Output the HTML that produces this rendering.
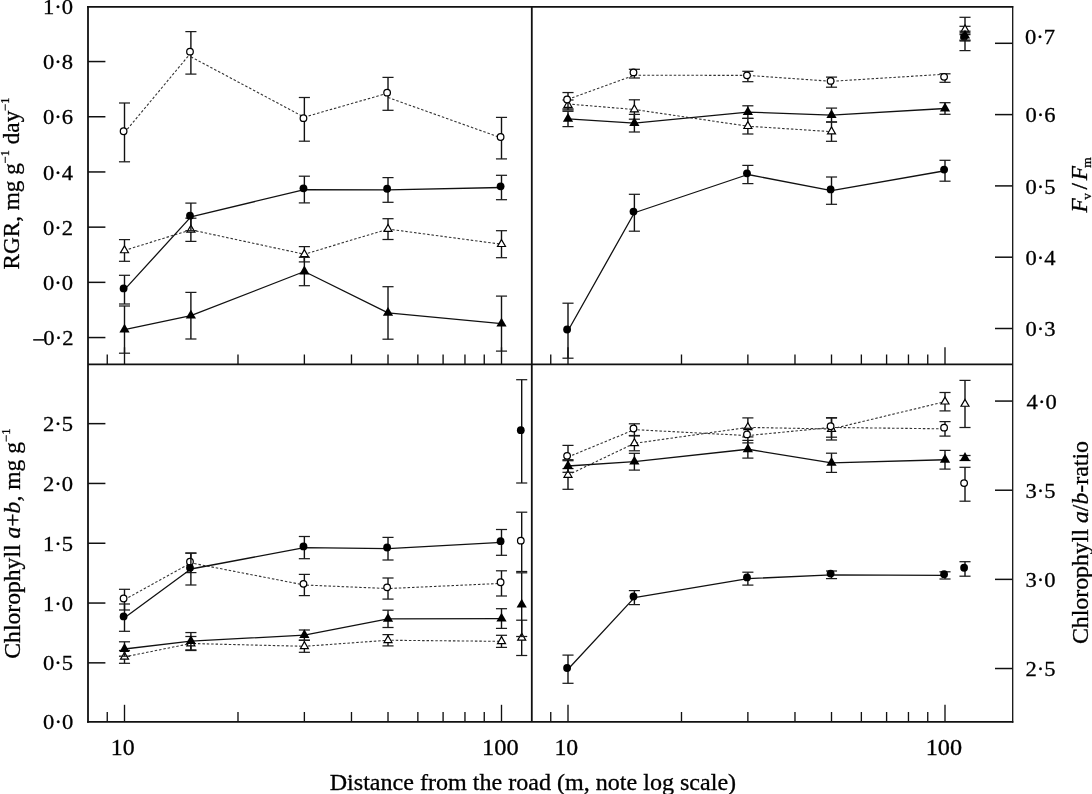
<!DOCTYPE html>
<html><head><meta charset="utf-8"><title>Figure</title>
<style>
html,body{margin:0;padding:0;background:#fff;width:1092px;height:794px;overflow:hidden}
svg{display:block}
text{font-family:'Liberation Serif',serif;font-size:22.5px;fill:#000}
</style></head><body>
<svg width="1092" height="794" viewBox="0 0 1092 794">
<rect width="1092" height="794" fill="#fff"/>
<g><line x1="88.00" y1="61.55" x2="105.40" y2="61.55" stroke="#111" stroke-width="1.5" /><line x1="88.00" y1="116.75" x2="105.40" y2="116.75" stroke="#111" stroke-width="1.5" /><line x1="88.00" y1="171.95" x2="105.40" y2="171.95" stroke="#111" stroke-width="1.5" /><line x1="88.00" y1="227.15" x2="105.40" y2="227.15" stroke="#111" stroke-width="1.5" /><line x1="88.00" y1="282.35" x2="105.40" y2="282.35" stroke="#111" stroke-width="1.5" /><line x1="88.00" y1="337.55" x2="105.40" y2="337.55" stroke="#111" stroke-width="1.5" /><line x1="88.00" y1="662.85" x2="105.40" y2="662.85" stroke="#111" stroke-width="1.5" /><line x1="88.00" y1="603.05" x2="105.40" y2="603.05" stroke="#111" stroke-width="1.5" /><line x1="88.00" y1="543.25" x2="105.40" y2="543.25" stroke="#111" stroke-width="1.5" /><line x1="88.00" y1="483.45" x2="105.40" y2="483.45" stroke="#111" stroke-width="1.5" /><line x1="88.00" y1="423.65" x2="105.40" y2="423.65" stroke="#111" stroke-width="1.5" /><line x1="995.00" y1="328.50" x2="1012.60" y2="328.50" stroke="#111" stroke-width="1.5" /><line x1="995.00" y1="257.20" x2="1012.60" y2="257.20" stroke="#111" stroke-width="1.5" /><line x1="995.00" y1="185.90" x2="1012.60" y2="185.90" stroke="#111" stroke-width="1.5" /><line x1="995.00" y1="114.60" x2="1012.60" y2="114.60" stroke="#111" stroke-width="1.5" /><line x1="995.00" y1="43.30" x2="1012.60" y2="43.30" stroke="#111" stroke-width="1.5" /><line x1="995.00" y1="668.52" x2="1012.60" y2="668.52" stroke="#111" stroke-width="1.5" /><line x1="995.00" y1="579.37" x2="1012.60" y2="579.37" stroke="#111" stroke-width="1.5" /><line x1="995.00" y1="490.22" x2="1012.60" y2="490.22" stroke="#111" stroke-width="1.5" /><line x1="995.00" y1="401.07" x2="1012.60" y2="401.07" stroke="#111" stroke-width="1.5" /><line x1="107.25" y1="364.30" x2="107.25" y2="354.50" stroke="#111" stroke-width="1.35" /><line x1="237.99" y1="364.30" x2="237.99" y2="354.50" stroke="#111" stroke-width="1.35" /><line x1="304.37" y1="364.30" x2="304.37" y2="354.50" stroke="#111" stroke-width="1.35" /><line x1="351.48" y1="364.30" x2="351.48" y2="354.50" stroke="#111" stroke-width="1.35" /><line x1="388.01" y1="364.30" x2="388.01" y2="354.50" stroke="#111" stroke-width="1.35" /><line x1="417.86" y1="364.30" x2="417.86" y2="354.50" stroke="#111" stroke-width="1.35" /><line x1="443.10" y1="364.30" x2="443.10" y2="354.50" stroke="#111" stroke-width="1.35" /><line x1="464.96" y1="364.30" x2="464.96" y2="354.50" stroke="#111" stroke-width="1.35" /><line x1="484.25" y1="364.30" x2="484.25" y2="354.50" stroke="#111" stroke-width="1.35" /><line x1="124.50" y1="364.30" x2="124.50" y2="347.30" stroke="#111" stroke-width="1.35" /><line x1="501.50" y1="364.30" x2="501.50" y2="347.30" stroke="#111" stroke-width="1.35" /><line x1="550.75" y1="364.30" x2="550.75" y2="354.50" stroke="#111" stroke-width="1.35" /><line x1="681.49" y1="364.30" x2="681.49" y2="354.50" stroke="#111" stroke-width="1.35" /><line x1="747.87" y1="364.30" x2="747.87" y2="354.50" stroke="#111" stroke-width="1.35" /><line x1="794.98" y1="364.30" x2="794.98" y2="354.50" stroke="#111" stroke-width="1.35" /><line x1="831.51" y1="364.30" x2="831.51" y2="354.50" stroke="#111" stroke-width="1.35" /><line x1="861.36" y1="364.30" x2="861.36" y2="354.50" stroke="#111" stroke-width="1.35" /><line x1="886.60" y1="364.30" x2="886.60" y2="354.50" stroke="#111" stroke-width="1.35" /><line x1="908.46" y1="364.30" x2="908.46" y2="354.50" stroke="#111" stroke-width="1.35" /><line x1="927.75" y1="364.30" x2="927.75" y2="354.50" stroke="#111" stroke-width="1.35" /><line x1="568.00" y1="364.30" x2="568.00" y2="347.30" stroke="#111" stroke-width="1.35" /><line x1="945.00" y1="364.30" x2="945.00" y2="347.30" stroke="#111" stroke-width="1.35" /><line x1="107.25" y1="721.80" x2="107.25" y2="712.00" stroke="#111" stroke-width="1.35" /><line x1="237.99" y1="721.80" x2="237.99" y2="712.00" stroke="#111" stroke-width="1.35" /><line x1="304.37" y1="721.80" x2="304.37" y2="712.00" stroke="#111" stroke-width="1.35" /><line x1="351.48" y1="721.80" x2="351.48" y2="712.00" stroke="#111" stroke-width="1.35" /><line x1="388.01" y1="721.80" x2="388.01" y2="712.00" stroke="#111" stroke-width="1.35" /><line x1="417.86" y1="721.80" x2="417.86" y2="712.00" stroke="#111" stroke-width="1.35" /><line x1="443.10" y1="721.80" x2="443.10" y2="712.00" stroke="#111" stroke-width="1.35" /><line x1="464.96" y1="721.80" x2="464.96" y2="712.00" stroke="#111" stroke-width="1.35" /><line x1="484.25" y1="721.80" x2="484.25" y2="712.00" stroke="#111" stroke-width="1.35" /><line x1="124.50" y1="721.80" x2="124.50" y2="704.80" stroke="#111" stroke-width="1.35" /><line x1="501.50" y1="721.80" x2="501.50" y2="704.80" stroke="#111" stroke-width="1.35" /><line x1="550.75" y1="721.80" x2="550.75" y2="712.00" stroke="#111" stroke-width="1.35" /><line x1="681.49" y1="721.80" x2="681.49" y2="712.00" stroke="#111" stroke-width="1.35" /><line x1="747.87" y1="721.80" x2="747.87" y2="712.00" stroke="#111" stroke-width="1.35" /><line x1="794.98" y1="721.80" x2="794.98" y2="712.00" stroke="#111" stroke-width="1.35" /><line x1="831.51" y1="721.80" x2="831.51" y2="712.00" stroke="#111" stroke-width="1.35" /><line x1="861.36" y1="721.80" x2="861.36" y2="712.00" stroke="#111" stroke-width="1.35" /><line x1="886.60" y1="721.80" x2="886.60" y2="712.00" stroke="#111" stroke-width="1.35" /><line x1="908.46" y1="721.80" x2="908.46" y2="712.00" stroke="#111" stroke-width="1.35" /><line x1="927.75" y1="721.80" x2="927.75" y2="712.00" stroke="#111" stroke-width="1.35" /><line x1="568.00" y1="721.80" x2="568.00" y2="704.80" stroke="#111" stroke-width="1.35" /><line x1="945.00" y1="721.80" x2="945.00" y2="704.80" stroke="#111" stroke-width="1.35" /><line x1="959.50" y1="34.50" x2="970.50" y2="34.50" stroke="#1a1a1a" stroke-width="1.45" /><line x1="959.50" y1="40.90" x2="970.50" y2="40.90" stroke="#1a1a1a" stroke-width="1.45" /></g>
<g><path d="M124.50,250.45L190.89,229.80L304.37,254.25L388.01,229.10L501.50,244.20" fill="none" stroke="#333" stroke-width="1.1" stroke-dasharray="2.5 1.9"/><line x1="124.50" y1="239.60" x2="124.50" y2="261.30" stroke="#111" stroke-width="1.4" /><line x1="118.95" y1="239.60" x2="130.05" y2="239.60" stroke="#1c1c1c" stroke-width="1.25" /><line x1="118.95" y1="261.30" x2="130.05" y2="261.30" stroke="#1c1c1c" stroke-width="1.25" /><polygon points="124.50,245.85 120.50,252.75 128.50,252.75" fill="#fff" stroke="#000" stroke-width="1.2" stroke-linejoin="miter"/><line x1="190.89" y1="218.20" x2="190.89" y2="241.40" stroke="#111" stroke-width="1.4" /><line x1="185.34" y1="218.20" x2="196.44" y2="218.20" stroke="#1c1c1c" stroke-width="1.25" /><line x1="185.34" y1="241.40" x2="196.44" y2="241.40" stroke="#1c1c1c" stroke-width="1.25" /><polygon points="190.89,225.20 186.89,232.10 194.89,232.10" fill="#fff" stroke="#000" stroke-width="1.2" stroke-linejoin="miter"/><line x1="304.37" y1="246.60" x2="304.37" y2="261.90" stroke="#111" stroke-width="1.4" /><line x1="298.82" y1="246.60" x2="309.92" y2="246.60" stroke="#1c1c1c" stroke-width="1.25" /><line x1="298.82" y1="261.90" x2="309.92" y2="261.90" stroke="#1c1c1c" stroke-width="1.25" /><polygon points="304.37,249.65 300.37,256.55 308.37,256.55" fill="#fff" stroke="#000" stroke-width="1.2" stroke-linejoin="miter"/><line x1="388.01" y1="218.70" x2="388.01" y2="239.50" stroke="#111" stroke-width="1.4" /><line x1="382.46" y1="218.70" x2="393.56" y2="218.70" stroke="#1c1c1c" stroke-width="1.25" /><line x1="382.46" y1="239.50" x2="393.56" y2="239.50" stroke="#1c1c1c" stroke-width="1.25" /><polygon points="388.01,224.50 384.01,231.40 392.01,231.40" fill="#fff" stroke="#000" stroke-width="1.2" stroke-linejoin="miter"/><line x1="501.50" y1="230.70" x2="501.50" y2="257.70" stroke="#111" stroke-width="1.4" /><line x1="495.95" y1="230.70" x2="507.05" y2="230.70" stroke="#1c1c1c" stroke-width="1.25" /><line x1="495.95" y1="257.70" x2="507.05" y2="257.70" stroke="#1c1c1c" stroke-width="1.25" /><polygon points="501.50,239.60 497.50,246.50 505.50,246.50" fill="#fff" stroke="#000" stroke-width="1.2" stroke-linejoin="miter"/><path d="M124.50,132.60L190.89,52.90M190.89,56.80L304.37,117.30M304.37,117.10L388.01,93.10M388.01,97.50L501.50,138.00" fill="none" stroke="#333" stroke-width="1.1" stroke-dasharray="2.5 1.9"/><line x1="124.50" y1="103.00" x2="124.50" y2="161.80" stroke="#111" stroke-width="1.4" /><line x1="118.95" y1="103.00" x2="130.05" y2="103.00" stroke="#1c1c1c" stroke-width="1.25" /><line x1="118.95" y1="161.80" x2="130.05" y2="161.80" stroke="#1c1c1c" stroke-width="1.25" /><circle cx="123.60" cy="131.20" r="3.3" fill="#fff" stroke="#000" stroke-width="1.25"/><line x1="190.89" y1="31.60" x2="190.89" y2="74.10" stroke="#111" stroke-width="1.4" /><line x1="185.34" y1="31.60" x2="196.44" y2="31.60" stroke="#1c1c1c" stroke-width="1.25" /><line x1="185.34" y1="74.10" x2="196.44" y2="74.10" stroke="#1c1c1c" stroke-width="1.25" /><circle cx="189.99" cy="51.65" r="3.3" fill="#fff" stroke="#000" stroke-width="1.25"/><line x1="304.37" y1="97.50" x2="304.37" y2="141.20" stroke="#111" stroke-width="1.4" /><line x1="298.82" y1="97.50" x2="309.92" y2="97.50" stroke="#1c1c1c" stroke-width="1.25" /><line x1="298.82" y1="141.20" x2="309.92" y2="141.20" stroke="#1c1c1c" stroke-width="1.25" /><circle cx="303.47" cy="118.15" r="3.3" fill="#fff" stroke="#000" stroke-width="1.25"/><line x1="388.01" y1="77.40" x2="388.01" y2="110.30" stroke="#111" stroke-width="1.4" /><line x1="382.46" y1="77.40" x2="393.56" y2="77.40" stroke="#1c1c1c" stroke-width="1.25" /><line x1="382.46" y1="110.30" x2="393.56" y2="110.30" stroke="#1c1c1c" stroke-width="1.25" /><circle cx="387.11" cy="92.65" r="3.3" fill="#fff" stroke="#000" stroke-width="1.25"/><line x1="501.50" y1="117.40" x2="501.50" y2="158.90" stroke="#111" stroke-width="1.4" /><line x1="495.95" y1="117.40" x2="507.05" y2="117.40" stroke="#1c1c1c" stroke-width="1.25" /><line x1="495.95" y1="158.90" x2="507.05" y2="158.90" stroke="#1c1c1c" stroke-width="1.25" /><circle cx="500.60" cy="136.95" r="3.3" fill="#fff" stroke="#000" stroke-width="1.25"/><path d="M124.50,329.60L190.89,315.70L304.37,271.50L388.01,312.95L501.50,323.60" fill="none" stroke="#111" stroke-width="1.3" stroke-linejoin="round"/><line x1="124.50" y1="306.00" x2="124.50" y2="353.20" stroke="#111" stroke-width="1.4" /><line x1="118.95" y1="306.00" x2="130.05" y2="306.00" stroke="#1c1c1c" stroke-width="1.25" /><line x1="118.95" y1="353.20" x2="130.05" y2="353.20" stroke="#1c1c1c" stroke-width="1.25" /><polygon points="124.50,323.70 119.40,332.50 129.60,332.50" fill="#000"/><line x1="190.89" y1="292.40" x2="190.89" y2="339.00" stroke="#111" stroke-width="1.4" /><line x1="185.34" y1="292.40" x2="196.44" y2="292.40" stroke="#1c1c1c" stroke-width="1.25" /><line x1="185.34" y1="339.00" x2="196.44" y2="339.00" stroke="#1c1c1c" stroke-width="1.25" /><polygon points="190.89,309.80 185.79,318.60 195.99,318.60" fill="#000"/><line x1="304.37" y1="257.30" x2="304.37" y2="285.70" stroke="#111" stroke-width="1.4" /><line x1="298.82" y1="257.30" x2="309.92" y2="257.30" stroke="#1c1c1c" stroke-width="1.25" /><line x1="298.82" y1="285.70" x2="309.92" y2="285.70" stroke="#1c1c1c" stroke-width="1.25" /><polygon points="304.37,265.60 299.27,274.40 309.47,274.40" fill="#000"/><line x1="388.01" y1="286.70" x2="388.01" y2="339.20" stroke="#111" stroke-width="1.4" /><line x1="382.46" y1="286.70" x2="393.56" y2="286.70" stroke="#1c1c1c" stroke-width="1.25" /><line x1="382.46" y1="339.20" x2="393.56" y2="339.20" stroke="#1c1c1c" stroke-width="1.25" /><polygon points="388.01,307.05 382.91,315.85 393.11,315.85" fill="#000"/><line x1="501.50" y1="296.10" x2="501.50" y2="351.10" stroke="#111" stroke-width="1.4" /><line x1="495.95" y1="296.10" x2="507.05" y2="296.10" stroke="#1c1c1c" stroke-width="1.25" /><line x1="495.95" y1="351.10" x2="507.05" y2="351.10" stroke="#1c1c1c" stroke-width="1.25" /><polygon points="501.50,317.70 496.40,326.50 506.60,326.50" fill="#000"/><path d="M124.50,289.65L190.89,216.90L304.37,189.55L388.01,189.95L501.50,187.50" fill="none" stroke="#111" stroke-width="1.3" stroke-linejoin="round"/><line x1="124.50" y1="275.30" x2="124.50" y2="304.00" stroke="#111" stroke-width="1.4" /><line x1="118.95" y1="275.30" x2="130.05" y2="275.30" stroke="#1c1c1c" stroke-width="1.25" /><line x1="118.95" y1="304.00" x2="130.05" y2="304.00" stroke="#1c1c1c" stroke-width="1.25" /><circle cx="123.60" cy="288.45" r="3.9" fill="#000"/><line x1="190.89" y1="203.10" x2="190.89" y2="230.70" stroke="#111" stroke-width="1.4" /><line x1="185.34" y1="203.10" x2="196.44" y2="203.10" stroke="#1c1c1c" stroke-width="1.25" /><line x1="185.34" y1="230.70" x2="196.44" y2="230.70" stroke="#1c1c1c" stroke-width="1.25" /><circle cx="189.99" cy="215.70" r="3.9" fill="#000"/><line x1="304.37" y1="176.20" x2="304.37" y2="202.90" stroke="#111" stroke-width="1.4" /><line x1="298.82" y1="176.20" x2="309.92" y2="176.20" stroke="#1c1c1c" stroke-width="1.25" /><line x1="298.82" y1="202.90" x2="309.92" y2="202.90" stroke="#1c1c1c" stroke-width="1.25" /><circle cx="303.47" cy="188.35" r="3.9" fill="#000"/><line x1="388.01" y1="177.60" x2="388.01" y2="202.30" stroke="#111" stroke-width="1.4" /><line x1="382.46" y1="177.60" x2="393.56" y2="177.60" stroke="#1c1c1c" stroke-width="1.25" /><line x1="382.46" y1="202.30" x2="393.56" y2="202.30" stroke="#1c1c1c" stroke-width="1.25" /><circle cx="387.11" cy="188.75" r="3.9" fill="#000"/><line x1="501.50" y1="175.30" x2="501.50" y2="199.70" stroke="#111" stroke-width="1.4" /><line x1="495.95" y1="175.30" x2="507.05" y2="175.30" stroke="#1c1c1c" stroke-width="1.25" /><line x1="495.95" y1="199.70" x2="507.05" y2="199.70" stroke="#1c1c1c" stroke-width="1.25" /><circle cx="500.60" cy="186.30" r="3.9" fill="#000"/><path d="M568.00,104.00L634.39,109.50L747.87,126.20L831.51,131.65" fill="none" stroke="#333" stroke-width="1.1" stroke-dasharray="2.5 1.9"/><line x1="568.00" y1="100.00" x2="568.00" y2="110.00" stroke="#111" stroke-width="1.4" /><line x1="562.45" y1="100.00" x2="573.55" y2="100.00" stroke="#1c1c1c" stroke-width="1.25" /><line x1="562.45" y1="110.00" x2="573.55" y2="110.00" stroke="#1c1c1c" stroke-width="1.25" /><polygon points="568.00,100.40 564.00,107.30 572.00,107.30" fill="#fff" stroke="#000" stroke-width="1.2" stroke-linejoin="miter"/><line x1="634.39" y1="99.80" x2="634.39" y2="119.20" stroke="#111" stroke-width="1.4" /><line x1="628.84" y1="99.80" x2="639.94" y2="99.80" stroke="#1c1c1c" stroke-width="1.25" /><line x1="628.84" y1="119.20" x2="639.94" y2="119.20" stroke="#1c1c1c" stroke-width="1.25" /><polygon points="634.39,104.90 630.39,111.80 638.39,111.80" fill="#fff" stroke="#000" stroke-width="1.2" stroke-linejoin="miter"/><line x1="747.87" y1="118.40" x2="747.87" y2="134.00" stroke="#111" stroke-width="1.4" /><line x1="742.32" y1="118.40" x2="753.42" y2="118.40" stroke="#1c1c1c" stroke-width="1.25" /><line x1="742.32" y1="134.00" x2="753.42" y2="134.00" stroke="#1c1c1c" stroke-width="1.25" /><polygon points="747.87,121.60 743.87,128.50 751.87,128.50" fill="#fff" stroke="#000" stroke-width="1.2" stroke-linejoin="miter"/><line x1="831.51" y1="122.00" x2="831.51" y2="141.30" stroke="#111" stroke-width="1.4" /><line x1="825.96" y1="122.00" x2="837.06" y2="122.00" stroke="#1c1c1c" stroke-width="1.25" /><line x1="825.96" y1="141.30" x2="837.06" y2="141.30" stroke="#1c1c1c" stroke-width="1.25" /><polygon points="831.51,127.05 827.51,133.95 835.51,133.95" fill="#fff" stroke="#000" stroke-width="1.2" stroke-linejoin="miter"/><path d="M568.00,99.30L634.39,75.20L747.87,75.40L831.51,81.30L945.00,74.20" fill="none" stroke="#333" stroke-width="1.1" stroke-dasharray="2.5 1.9"/><line x1="568.00" y1="92.55" x2="568.00" y2="108.85" stroke="#111" stroke-width="1.4" /><line x1="562.45" y1="92.55" x2="573.55" y2="92.55" stroke="#1c1c1c" stroke-width="1.25" /><line x1="562.45" y1="108.85" x2="573.55" y2="108.85" stroke="#1c1c1c" stroke-width="1.25" /><circle cx="567.10" cy="99.50" r="3.3" fill="#fff" stroke="#000" stroke-width="1.25"/><line x1="634.39" y1="69.30" x2="634.39" y2="78.00" stroke="#111" stroke-width="1.4" /><line x1="628.84" y1="69.30" x2="639.94" y2="69.30" stroke="#1c1c1c" stroke-width="1.25" /><line x1="628.84" y1="78.00" x2="639.94" y2="78.00" stroke="#1c1c1c" stroke-width="1.25" /><circle cx="633.49" cy="72.45" r="3.3" fill="#fff" stroke="#000" stroke-width="1.25"/><line x1="747.87" y1="71.30" x2="747.87" y2="81.70" stroke="#111" stroke-width="1.4" /><line x1="742.32" y1="71.30" x2="753.42" y2="71.30" stroke="#1c1c1c" stroke-width="1.25" /><line x1="742.32" y1="81.70" x2="753.42" y2="81.70" stroke="#1c1c1c" stroke-width="1.25" /><circle cx="746.97" cy="75.30" r="3.3" fill="#fff" stroke="#000" stroke-width="1.25"/><line x1="831.51" y1="77.10" x2="831.51" y2="87.20" stroke="#111" stroke-width="1.4" /><line x1="825.96" y1="77.10" x2="837.06" y2="77.10" stroke="#1c1c1c" stroke-width="1.25" /><line x1="825.96" y1="87.20" x2="837.06" y2="87.20" stroke="#1c1c1c" stroke-width="1.25" /><circle cx="830.61" cy="80.95" r="3.3" fill="#fff" stroke="#000" stroke-width="1.25"/><line x1="945.00" y1="73.80" x2="945.00" y2="82.30" stroke="#111" stroke-width="1.4" /><line x1="939.45" y1="73.80" x2="950.55" y2="73.80" stroke="#1c1c1c" stroke-width="1.25" /><line x1="939.45" y1="82.30" x2="950.55" y2="82.30" stroke="#1c1c1c" stroke-width="1.25" /><circle cx="944.10" cy="76.85" r="3.3" fill="#fff" stroke="#000" stroke-width="1.25"/><path d="M568.00,118.95L634.39,123.20L747.87,112.10L831.51,115.05L945.00,108.50" fill="none" stroke="#111" stroke-width="1.3" stroke-linejoin="round"/><line x1="568.00" y1="111.30" x2="568.00" y2="126.60" stroke="#111" stroke-width="1.4" /><line x1="562.45" y1="111.30" x2="573.55" y2="111.30" stroke="#1c1c1c" stroke-width="1.25" /><line x1="562.45" y1="126.60" x2="573.55" y2="126.60" stroke="#1c1c1c" stroke-width="1.25" /><polygon points="568.00,113.05 562.90,121.85 573.10,121.85" fill="#000"/><line x1="634.39" y1="114.40" x2="634.39" y2="132.00" stroke="#111" stroke-width="1.4" /><line x1="628.84" y1="114.40" x2="639.94" y2="114.40" stroke="#1c1c1c" stroke-width="1.25" /><line x1="628.84" y1="132.00" x2="639.94" y2="132.00" stroke="#1c1c1c" stroke-width="1.25" /><polygon points="634.39,117.30 629.29,126.10 639.49,126.10" fill="#000"/><line x1="747.87" y1="105.80" x2="747.87" y2="118.40" stroke="#111" stroke-width="1.4" /><line x1="742.32" y1="105.80" x2="753.42" y2="105.80" stroke="#1c1c1c" stroke-width="1.25" /><line x1="742.32" y1="118.40" x2="753.42" y2="118.40" stroke="#1c1c1c" stroke-width="1.25" /><polygon points="747.87,106.20 742.77,115.00 752.97,115.00" fill="#000"/><line x1="831.51" y1="108.10" x2="831.51" y2="122.00" stroke="#111" stroke-width="1.4" /><line x1="825.96" y1="108.10" x2="837.06" y2="108.10" stroke="#1c1c1c" stroke-width="1.25" /><line x1="825.96" y1="122.00" x2="837.06" y2="122.00" stroke="#1c1c1c" stroke-width="1.25" /><polygon points="831.51,109.15 826.41,117.95 836.61,117.95" fill="#000"/><line x1="945.00" y1="102.70" x2="945.00" y2="114.30" stroke="#111" stroke-width="1.4" /><line x1="939.45" y1="102.70" x2="950.55" y2="102.70" stroke="#1c1c1c" stroke-width="1.25" /><line x1="939.45" y1="114.30" x2="950.55" y2="114.30" stroke="#1c1c1c" stroke-width="1.25" /><polygon points="945.00,102.60 939.90,111.40 950.10,111.40" fill="#000"/><path d="M568.00,330.70L634.39,212.75L747.87,174.50L831.51,190.65L945.00,170.75" fill="none" stroke="#111" stroke-width="1.3" stroke-linejoin="round"/><line x1="568.00" y1="303.20" x2="568.00" y2="358.20" stroke="#111" stroke-width="1.4" /><line x1="562.45" y1="303.20" x2="573.55" y2="303.20" stroke="#1c1c1c" stroke-width="1.25" /><line x1="562.45" y1="358.20" x2="573.55" y2="358.20" stroke="#1c1c1c" stroke-width="1.25" /><circle cx="567.10" cy="329.50" r="3.9" fill="#000"/><line x1="634.39" y1="194.30" x2="634.39" y2="231.20" stroke="#111" stroke-width="1.4" /><line x1="628.84" y1="194.30" x2="639.94" y2="194.30" stroke="#1c1c1c" stroke-width="1.25" /><line x1="628.84" y1="231.20" x2="639.94" y2="231.20" stroke="#1c1c1c" stroke-width="1.25" /><circle cx="633.49" cy="211.55" r="3.9" fill="#000"/><line x1="747.87" y1="165.40" x2="747.87" y2="183.60" stroke="#111" stroke-width="1.4" /><line x1="742.32" y1="165.40" x2="753.42" y2="165.40" stroke="#1c1c1c" stroke-width="1.25" /><line x1="742.32" y1="183.60" x2="753.42" y2="183.60" stroke="#1c1c1c" stroke-width="1.25" /><circle cx="746.97" cy="173.30" r="3.9" fill="#000"/><line x1="831.51" y1="177.00" x2="831.51" y2="204.30" stroke="#111" stroke-width="1.4" /><line x1="825.96" y1="177.00" x2="837.06" y2="177.00" stroke="#1c1c1c" stroke-width="1.25" /><line x1="825.96" y1="204.30" x2="837.06" y2="204.30" stroke="#1c1c1c" stroke-width="1.25" /><circle cx="830.61" cy="189.45" r="3.9" fill="#000"/><line x1="945.00" y1="160.30" x2="945.00" y2="181.20" stroke="#111" stroke-width="1.4" /><line x1="939.45" y1="160.30" x2="950.55" y2="160.30" stroke="#1c1c1c" stroke-width="1.25" /><line x1="939.45" y1="181.20" x2="950.55" y2="181.20" stroke="#1c1c1c" stroke-width="1.25" /><circle cx="944.10" cy="169.55" r="3.9" fill="#000"/><line x1="965.00" y1="17.30" x2="965.00" y2="50.60" stroke="#111" stroke-width="1.4" /><line x1="959.45" y1="17.30" x2="970.55" y2="17.30" stroke="#1c1c1c" stroke-width="1.25" /><line x1="959.45" y1="50.60" x2="970.55" y2="50.60" stroke="#1c1c1c" stroke-width="1.25" /><circle cx="964.10" cy="36.80" r="3.9" fill="#000"/><line x1="965.00" y1="26.30" x2="965.00" y2="32.90" stroke="#111" stroke-width="1.4" /><line x1="959.45" y1="26.30" x2="970.55" y2="26.30" stroke="#1c1c1c" stroke-width="1.25" /><line x1="959.45" y1="32.90" x2="970.55" y2="32.90" stroke="#1c1c1c" stroke-width="1.25" /><polygon points="965.00,25.00 961.00,31.90 969.00,31.90" fill="#fff" stroke="#000" stroke-width="1.2" stroke-linejoin="miter"/><line x1="965.00" y1="31.20" x2="965.00" y2="40.10" stroke="#111" stroke-width="1.4" /><line x1="959.45" y1="31.20" x2="970.55" y2="31.20" stroke="#1c1c1c" stroke-width="1.25" /><line x1="959.45" y1="40.10" x2="970.55" y2="40.10" stroke="#1c1c1c" stroke-width="1.25" /><polygon points="965.00,29.75 959.90,38.55 970.10,38.55" fill="#000"/><path d="M124.50,656.90L190.89,643.50L304.37,646.30L388.01,640.25L501.50,641.35" fill="none" stroke="#333" stroke-width="1.1" stroke-dasharray="2.5 1.9"/><line x1="124.50" y1="650.50" x2="124.50" y2="663.30" stroke="#111" stroke-width="1.4" /><line x1="118.95" y1="650.50" x2="130.05" y2="650.50" stroke="#1c1c1c" stroke-width="1.25" /><line x1="118.95" y1="663.30" x2="130.05" y2="663.30" stroke="#1c1c1c" stroke-width="1.25" /><polygon points="124.50,652.30 120.50,659.20 128.50,659.20" fill="#fff" stroke="#000" stroke-width="1.2" stroke-linejoin="miter"/><line x1="190.89" y1="636.50" x2="190.89" y2="650.50" stroke="#111" stroke-width="1.4" /><line x1="185.34" y1="636.50" x2="196.44" y2="636.50" stroke="#1c1c1c" stroke-width="1.25" /><line x1="185.34" y1="650.50" x2="196.44" y2="650.50" stroke="#1c1c1c" stroke-width="1.25" /><polygon points="190.89,638.90 186.89,645.80 194.89,645.80" fill="#fff" stroke="#000" stroke-width="1.2" stroke-linejoin="miter"/><line x1="304.37" y1="640.30" x2="304.37" y2="652.30" stroke="#111" stroke-width="1.4" /><line x1="298.82" y1="640.30" x2="309.92" y2="640.30" stroke="#1c1c1c" stroke-width="1.25" /><line x1="298.82" y1="652.30" x2="309.92" y2="652.30" stroke="#1c1c1c" stroke-width="1.25" /><polygon points="304.37,641.70 300.37,648.60 308.37,648.60" fill="#fff" stroke="#000" stroke-width="1.2" stroke-linejoin="miter"/><line x1="388.01" y1="634.60" x2="388.01" y2="645.90" stroke="#111" stroke-width="1.4" /><line x1="382.46" y1="634.60" x2="393.56" y2="634.60" stroke="#1c1c1c" stroke-width="1.25" /><line x1="382.46" y1="645.90" x2="393.56" y2="645.90" stroke="#1c1c1c" stroke-width="1.25" /><polygon points="388.01,635.65 384.01,642.55 392.01,642.55" fill="#fff" stroke="#000" stroke-width="1.2" stroke-linejoin="miter"/><line x1="501.50" y1="635.30" x2="501.50" y2="647.40" stroke="#111" stroke-width="1.4" /><line x1="495.95" y1="635.30" x2="507.05" y2="635.30" stroke="#1c1c1c" stroke-width="1.25" /><line x1="495.95" y1="647.40" x2="507.05" y2="647.40" stroke="#1c1c1c" stroke-width="1.25" /><polygon points="501.50,636.75 497.50,643.65 505.50,643.65" fill="#fff" stroke="#000" stroke-width="1.2" stroke-linejoin="miter"/><path d="M124.50,599.65L190.89,562.90L304.37,585.00L388.01,588.55L501.50,583.40" fill="none" stroke="#333" stroke-width="1.1" stroke-dasharray="2.5 1.9"/><line x1="124.50" y1="589.30" x2="124.50" y2="610.00" stroke="#111" stroke-width="1.4" /><line x1="118.95" y1="589.30" x2="130.05" y2="589.30" stroke="#1c1c1c" stroke-width="1.25" /><line x1="118.95" y1="610.00" x2="130.05" y2="610.00" stroke="#1c1c1c" stroke-width="1.25" /><circle cx="123.60" cy="598.45" r="3.3" fill="#fff" stroke="#000" stroke-width="1.25"/><line x1="190.89" y1="553.20" x2="190.89" y2="572.60" stroke="#111" stroke-width="1.4" /><line x1="185.34" y1="553.20" x2="196.44" y2="553.20" stroke="#1c1c1c" stroke-width="1.25" /><line x1="185.34" y1="572.60" x2="196.44" y2="572.60" stroke="#1c1c1c" stroke-width="1.25" /><circle cx="189.99" cy="561.70" r="3.3" fill="#fff" stroke="#000" stroke-width="1.25"/><line x1="304.37" y1="574.40" x2="304.37" y2="595.60" stroke="#111" stroke-width="1.4" /><line x1="298.82" y1="574.40" x2="309.92" y2="574.40" stroke="#1c1c1c" stroke-width="1.25" /><line x1="298.82" y1="595.60" x2="309.92" y2="595.60" stroke="#1c1c1c" stroke-width="1.25" /><circle cx="303.47" cy="583.80" r="3.3" fill="#fff" stroke="#000" stroke-width="1.25"/><line x1="388.01" y1="578.00" x2="388.01" y2="599.10" stroke="#111" stroke-width="1.4" /><line x1="382.46" y1="578.00" x2="393.56" y2="578.00" stroke="#1c1c1c" stroke-width="1.25" /><line x1="382.46" y1="599.10" x2="393.56" y2="599.10" stroke="#1c1c1c" stroke-width="1.25" /><circle cx="387.11" cy="587.35" r="3.3" fill="#fff" stroke="#000" stroke-width="1.25"/><line x1="501.50" y1="570.80" x2="501.50" y2="596.00" stroke="#111" stroke-width="1.4" /><line x1="495.95" y1="570.80" x2="507.05" y2="570.80" stroke="#1c1c1c" stroke-width="1.25" /><line x1="495.95" y1="596.00" x2="507.05" y2="596.00" stroke="#1c1c1c" stroke-width="1.25" /><circle cx="500.60" cy="582.20" r="3.3" fill="#fff" stroke="#000" stroke-width="1.25"/><path d="M124.50,649.00L190.89,641.22L304.37,635.10L388.01,618.85L501.50,618.55" fill="none" stroke="#111" stroke-width="1.3" stroke-linejoin="round"/><line x1="124.50" y1="641.80" x2="124.50" y2="656.20" stroke="#111" stroke-width="1.4" /><line x1="118.95" y1="641.80" x2="130.05" y2="641.80" stroke="#1c1c1c" stroke-width="1.25" /><line x1="118.95" y1="656.20" x2="130.05" y2="656.20" stroke="#1c1c1c" stroke-width="1.25" /><polygon points="124.50,643.10 119.40,651.90 129.60,651.90" fill="#000"/><line x1="190.89" y1="632.55" x2="190.89" y2="649.90" stroke="#111" stroke-width="1.4" /><line x1="185.34" y1="632.55" x2="196.44" y2="632.55" stroke="#1c1c1c" stroke-width="1.25" /><line x1="185.34" y1="649.90" x2="196.44" y2="649.90" stroke="#1c1c1c" stroke-width="1.25" /><polygon points="190.89,635.32 185.79,644.12 195.99,644.12" fill="#000"/><line x1="304.37" y1="630.00" x2="304.37" y2="640.20" stroke="#111" stroke-width="1.4" /><line x1="298.82" y1="630.00" x2="309.92" y2="630.00" stroke="#1c1c1c" stroke-width="1.25" /><line x1="298.82" y1="640.20" x2="309.92" y2="640.20" stroke="#1c1c1c" stroke-width="1.25" /><polygon points="304.37,629.20 299.27,638.00 309.47,638.00" fill="#000"/><line x1="388.01" y1="610.20" x2="388.01" y2="627.50" stroke="#111" stroke-width="1.4" /><line x1="382.46" y1="610.20" x2="393.56" y2="610.20" stroke="#1c1c1c" stroke-width="1.25" /><line x1="382.46" y1="627.50" x2="393.56" y2="627.50" stroke="#1c1c1c" stroke-width="1.25" /><polygon points="388.01,612.95 382.91,621.75 393.11,621.75" fill="#000"/><line x1="501.50" y1="608.70" x2="501.50" y2="628.40" stroke="#111" stroke-width="1.4" /><line x1="495.95" y1="608.70" x2="507.05" y2="608.70" stroke="#1c1c1c" stroke-width="1.25" /><line x1="495.95" y1="628.40" x2="507.05" y2="628.40" stroke="#1c1c1c" stroke-width="1.25" /><polygon points="501.50,612.65 496.40,621.45 506.60,621.45" fill="#000"/><path d="M124.50,617.65L190.89,569.00L304.37,547.60L388.01,548.70L501.50,542.40" fill="none" stroke="#111" stroke-width="1.3" stroke-linejoin="round"/><line x1="124.50" y1="604.00" x2="124.50" y2="631.30" stroke="#111" stroke-width="1.4" /><line x1="118.95" y1="604.00" x2="130.05" y2="604.00" stroke="#1c1c1c" stroke-width="1.25" /><line x1="118.95" y1="631.30" x2="130.05" y2="631.30" stroke="#1c1c1c" stroke-width="1.25" /><circle cx="123.60" cy="616.45" r="3.9" fill="#000"/><line x1="190.89" y1="553.00" x2="190.89" y2="585.00" stroke="#111" stroke-width="1.4" /><line x1="185.34" y1="553.00" x2="196.44" y2="553.00" stroke="#1c1c1c" stroke-width="1.25" /><line x1="185.34" y1="585.00" x2="196.44" y2="585.00" stroke="#1c1c1c" stroke-width="1.25" /><circle cx="189.99" cy="567.80" r="3.9" fill="#000"/><line x1="304.37" y1="536.50" x2="304.37" y2="558.70" stroke="#111" stroke-width="1.4" /><line x1="298.82" y1="536.50" x2="309.92" y2="536.50" stroke="#1c1c1c" stroke-width="1.25" /><line x1="298.82" y1="558.70" x2="309.92" y2="558.70" stroke="#1c1c1c" stroke-width="1.25" /><circle cx="303.47" cy="546.40" r="3.9" fill="#000"/><line x1="388.01" y1="537.40" x2="388.01" y2="560.00" stroke="#111" stroke-width="1.4" /><line x1="382.46" y1="537.40" x2="393.56" y2="537.40" stroke="#1c1c1c" stroke-width="1.25" /><line x1="382.46" y1="560.00" x2="393.56" y2="560.00" stroke="#1c1c1c" stroke-width="1.25" /><circle cx="387.11" cy="547.50" r="3.9" fill="#000"/><line x1="501.50" y1="529.50" x2="501.50" y2="555.30" stroke="#111" stroke-width="1.4" /><line x1="495.95" y1="529.50" x2="507.05" y2="529.50" stroke="#1c1c1c" stroke-width="1.25" /><line x1="495.95" y1="555.30" x2="507.05" y2="555.30" stroke="#1c1c1c" stroke-width="1.25" /><circle cx="500.60" cy="541.20" r="3.9" fill="#000"/><line x1="521.70" y1="620.20" x2="521.70" y2="655.50" stroke="#111" stroke-width="1.4" /><line x1="516.15" y1="620.20" x2="527.25" y2="620.20" stroke="#1c1c1c" stroke-width="1.25" /><line x1="516.15" y1="655.50" x2="527.25" y2="655.50" stroke="#1c1c1c" stroke-width="1.25" /><polygon points="521.70,633.25 517.70,640.15 525.70,640.15" fill="#fff" stroke="#000" stroke-width="1.2" stroke-linejoin="miter"/><line x1="521.70" y1="512.20" x2="521.70" y2="571.50" stroke="#111" stroke-width="1.4" /><line x1="516.15" y1="512.20" x2="527.25" y2="512.20" stroke="#1c1c1c" stroke-width="1.25" /><line x1="516.15" y1="571.50" x2="527.25" y2="571.50" stroke="#1c1c1c" stroke-width="1.25" /><circle cx="520.80" cy="540.65" r="3.3" fill="#fff" stroke="#000" stroke-width="1.25"/><line x1="521.70" y1="572.80" x2="521.70" y2="636.50" stroke="#111" stroke-width="1.4" /><line x1="516.15" y1="572.80" x2="527.25" y2="572.80" stroke="#1c1c1c" stroke-width="1.25" /><line x1="516.15" y1="636.50" x2="527.25" y2="636.50" stroke="#1c1c1c" stroke-width="1.25" /><polygon points="521.70,598.75 516.60,607.55 526.80,607.55" fill="#000"/><line x1="521.70" y1="379.70" x2="521.70" y2="483.00" stroke="#111" stroke-width="1.4" /><line x1="516.15" y1="379.70" x2="527.25" y2="379.70" stroke="#1c1c1c" stroke-width="1.25" /><line x1="516.15" y1="483.00" x2="527.25" y2="483.00" stroke="#1c1c1c" stroke-width="1.25" /><circle cx="520.80" cy="430.15" r="3.9" fill="#000"/><path d="M568.00,475.00L634.39,443.35L747.87,427.40L831.51,429.00L945.00,401.70" fill="none" stroke="#333" stroke-width="1.1" stroke-dasharray="2.5 1.9"/><line x1="568.00" y1="460.70" x2="568.00" y2="489.30" stroke="#111" stroke-width="1.4" /><line x1="562.45" y1="460.70" x2="573.55" y2="460.70" stroke="#1c1c1c" stroke-width="1.25" /><line x1="562.45" y1="489.30" x2="573.55" y2="489.30" stroke="#1c1c1c" stroke-width="1.25" /><polygon points="568.00,470.40 564.00,477.30 572.00,477.30" fill="#fff" stroke="#000" stroke-width="1.2" stroke-linejoin="miter"/><line x1="634.39" y1="435.90" x2="634.39" y2="450.80" stroke="#111" stroke-width="1.4" /><line x1="628.84" y1="435.90" x2="639.94" y2="435.90" stroke="#1c1c1c" stroke-width="1.25" /><line x1="628.84" y1="450.80" x2="639.94" y2="450.80" stroke="#1c1c1c" stroke-width="1.25" /><polygon points="634.39,438.75 630.39,445.65 638.39,445.65" fill="#fff" stroke="#000" stroke-width="1.2" stroke-linejoin="miter"/><line x1="747.87" y1="417.90" x2="747.87" y2="436.90" stroke="#111" stroke-width="1.4" /><line x1="742.32" y1="417.90" x2="753.42" y2="417.90" stroke="#1c1c1c" stroke-width="1.25" /><line x1="742.32" y1="436.90" x2="753.42" y2="436.90" stroke="#1c1c1c" stroke-width="1.25" /><polygon points="747.87,422.80 743.87,429.70 751.87,429.70" fill="#fff" stroke="#000" stroke-width="1.2" stroke-linejoin="miter"/><line x1="831.51" y1="418.00" x2="831.51" y2="440.00" stroke="#111" stroke-width="1.4" /><line x1="825.96" y1="418.00" x2="837.06" y2="418.00" stroke="#1c1c1c" stroke-width="1.25" /><line x1="825.96" y1="440.00" x2="837.06" y2="440.00" stroke="#1c1c1c" stroke-width="1.25" /><polygon points="831.51,424.40 827.51,431.30 835.51,431.30" fill="#fff" stroke="#000" stroke-width="1.2" stroke-linejoin="miter"/><line x1="945.00" y1="392.50" x2="945.00" y2="410.90" stroke="#111" stroke-width="1.4" /><line x1="939.45" y1="392.50" x2="950.55" y2="392.50" stroke="#1c1c1c" stroke-width="1.25" /><line x1="939.45" y1="410.90" x2="950.55" y2="410.90" stroke="#1c1c1c" stroke-width="1.25" /><polygon points="945.00,397.10 941.00,404.00 949.00,404.00" fill="#fff" stroke="#000" stroke-width="1.2" stroke-linejoin="miter"/><path d="M568.00,457.00L634.39,429.65L747.87,435.60L831.51,427.45L945.00,428.85" fill="none" stroke="#333" stroke-width="1.1" stroke-dasharray="2.5 1.9"/><line x1="568.00" y1="445.40" x2="568.00" y2="468.60" stroke="#111" stroke-width="1.4" /><line x1="562.45" y1="445.40" x2="573.55" y2="445.40" stroke="#1c1c1c" stroke-width="1.25" /><line x1="562.45" y1="468.60" x2="573.55" y2="468.60" stroke="#1c1c1c" stroke-width="1.25" /><circle cx="567.10" cy="455.80" r="3.3" fill="#fff" stroke="#000" stroke-width="1.25"/><line x1="634.39" y1="423.80" x2="634.39" y2="435.50" stroke="#111" stroke-width="1.4" /><line x1="628.84" y1="423.80" x2="639.94" y2="423.80" stroke="#1c1c1c" stroke-width="1.25" /><line x1="628.84" y1="435.50" x2="639.94" y2="435.50" stroke="#1c1c1c" stroke-width="1.25" /><circle cx="633.49" cy="428.45" r="3.3" fill="#fff" stroke="#000" stroke-width="1.25"/><line x1="747.87" y1="428.30" x2="747.87" y2="442.90" stroke="#111" stroke-width="1.4" /><line x1="742.32" y1="428.30" x2="753.42" y2="428.30" stroke="#1c1c1c" stroke-width="1.25" /><line x1="742.32" y1="442.90" x2="753.42" y2="442.90" stroke="#1c1c1c" stroke-width="1.25" /><circle cx="746.97" cy="434.40" r="3.3" fill="#fff" stroke="#000" stroke-width="1.25"/><line x1="831.51" y1="417.70" x2="831.51" y2="437.20" stroke="#111" stroke-width="1.4" /><line x1="825.96" y1="417.70" x2="837.06" y2="417.70" stroke="#1c1c1c" stroke-width="1.25" /><line x1="825.96" y1="437.20" x2="837.06" y2="437.20" stroke="#1c1c1c" stroke-width="1.25" /><circle cx="830.61" cy="426.25" r="3.3" fill="#fff" stroke="#000" stroke-width="1.25"/><line x1="945.00" y1="421.60" x2="945.00" y2="436.10" stroke="#111" stroke-width="1.4" /><line x1="939.45" y1="421.60" x2="950.55" y2="421.60" stroke="#1c1c1c" stroke-width="1.25" /><line x1="939.45" y1="436.10" x2="950.55" y2="436.10" stroke="#1c1c1c" stroke-width="1.25" /><circle cx="944.10" cy="427.65" r="3.3" fill="#fff" stroke="#000" stroke-width="1.25"/><path d="M568.00,466.00L634.39,461.70L747.87,449.25L831.51,462.80L945.00,459.75" fill="none" stroke="#111" stroke-width="1.3" stroke-linejoin="round"/><line x1="568.00" y1="459.70" x2="568.00" y2="472.30" stroke="#111" stroke-width="1.4" /><line x1="562.45" y1="459.70" x2="573.55" y2="459.70" stroke="#1c1c1c" stroke-width="1.25" /><line x1="562.45" y1="472.30" x2="573.55" y2="472.30" stroke="#1c1c1c" stroke-width="1.25" /><polygon points="568.00,460.10 562.90,468.90 573.10,468.90" fill="#000"/><line x1="634.39" y1="453.30" x2="634.39" y2="470.10" stroke="#111" stroke-width="1.4" /><line x1="628.84" y1="453.30" x2="639.94" y2="453.30" stroke="#1c1c1c" stroke-width="1.25" /><line x1="628.84" y1="470.10" x2="639.94" y2="470.10" stroke="#1c1c1c" stroke-width="1.25" /><polygon points="634.39,455.80 629.29,464.60 639.49,464.60" fill="#000"/><line x1="747.87" y1="440.40" x2="747.87" y2="458.10" stroke="#111" stroke-width="1.4" /><line x1="742.32" y1="440.40" x2="753.42" y2="440.40" stroke="#1c1c1c" stroke-width="1.25" /><line x1="742.32" y1="458.10" x2="753.42" y2="458.10" stroke="#1c1c1c" stroke-width="1.25" /><polygon points="747.87,443.35 742.77,452.15 752.97,452.15" fill="#000"/><line x1="831.51" y1="453.20" x2="831.51" y2="472.40" stroke="#111" stroke-width="1.4" /><line x1="825.96" y1="453.20" x2="837.06" y2="453.20" stroke="#1c1c1c" stroke-width="1.25" /><line x1="825.96" y1="472.40" x2="837.06" y2="472.40" stroke="#1c1c1c" stroke-width="1.25" /><polygon points="831.51,456.90 826.41,465.70 836.61,465.70" fill="#000"/><line x1="945.00" y1="450.40" x2="945.00" y2="469.10" stroke="#111" stroke-width="1.4" /><line x1="939.45" y1="450.40" x2="950.55" y2="450.40" stroke="#1c1c1c" stroke-width="1.25" /><line x1="939.45" y1="469.10" x2="950.55" y2="469.10" stroke="#1c1c1c" stroke-width="1.25" /><polygon points="945.00,453.85 939.90,462.65 950.10,462.65" fill="#000"/><path d="M568.00,669.20L634.39,597.60L747.87,578.65L831.51,574.80L945.00,575.40" fill="none" stroke="#111" stroke-width="1.3" stroke-linejoin="round"/><line x1="568.00" y1="655.10" x2="568.00" y2="683.30" stroke="#111" stroke-width="1.4" /><line x1="562.45" y1="655.10" x2="573.55" y2="655.10" stroke="#1c1c1c" stroke-width="1.25" /><line x1="562.45" y1="683.30" x2="573.55" y2="683.30" stroke="#1c1c1c" stroke-width="1.25" /><circle cx="567.10" cy="668.00" r="3.9" fill="#000"/><line x1="634.39" y1="590.60" x2="634.39" y2="604.60" stroke="#111" stroke-width="1.4" /><line x1="628.84" y1="590.60" x2="639.94" y2="590.60" stroke="#1c1c1c" stroke-width="1.25" /><line x1="628.84" y1="604.60" x2="639.94" y2="604.60" stroke="#1c1c1c" stroke-width="1.25" /><circle cx="633.49" cy="596.40" r="3.9" fill="#000"/><line x1="747.87" y1="572.20" x2="747.87" y2="585.10" stroke="#111" stroke-width="1.4" /><line x1="742.32" y1="572.20" x2="753.42" y2="572.20" stroke="#1c1c1c" stroke-width="1.25" /><line x1="742.32" y1="585.10" x2="753.42" y2="585.10" stroke="#1c1c1c" stroke-width="1.25" /><circle cx="746.97" cy="577.45" r="3.9" fill="#000"/><line x1="831.51" y1="571.00" x2="831.51" y2="578.60" stroke="#111" stroke-width="1.4" /><line x1="825.96" y1="571.00" x2="837.06" y2="571.00" stroke="#1c1c1c" stroke-width="1.25" /><line x1="825.96" y1="578.60" x2="837.06" y2="578.60" stroke="#1c1c1c" stroke-width="1.25" /><circle cx="830.61" cy="573.60" r="3.9" fill="#000"/><line x1="945.00" y1="571.80" x2="945.00" y2="579.00" stroke="#111" stroke-width="1.4" /><line x1="939.45" y1="571.80" x2="950.55" y2="571.80" stroke="#1c1c1c" stroke-width="1.25" /><line x1="939.45" y1="579.00" x2="950.55" y2="579.00" stroke="#1c1c1c" stroke-width="1.25" /><circle cx="944.10" cy="574.20" r="3.9" fill="#000"/><line x1="965.00" y1="380.40" x2="965.00" y2="427.50" stroke="#111" stroke-width="1.4" /><line x1="959.45" y1="380.40" x2="970.55" y2="380.40" stroke="#1c1c1c" stroke-width="1.25" /><line x1="959.45" y1="427.50" x2="970.55" y2="427.50" stroke="#1c1c1c" stroke-width="1.25" /><polygon points="965.00,399.35 961.00,406.25 969.00,406.25" fill="#fff" stroke="#000" stroke-width="1.2" stroke-linejoin="miter"/><line x1="965.00" y1="467.30" x2="965.00" y2="501.20" stroke="#111" stroke-width="1.4" /><line x1="959.45" y1="467.30" x2="970.55" y2="467.30" stroke="#1c1c1c" stroke-width="1.25" /><line x1="959.45" y1="501.20" x2="970.55" y2="501.20" stroke="#1c1c1c" stroke-width="1.25" /><circle cx="964.10" cy="483.05" r="3.3" fill="#fff" stroke="#000" stroke-width="1.25"/><line x1="965.00" y1="455.50" x2="965.00" y2="460.50" stroke="#111" stroke-width="1.4" /><line x1="959.45" y1="455.50" x2="970.55" y2="455.50" stroke="#1c1c1c" stroke-width="1.25" /><line x1="959.45" y1="460.50" x2="970.55" y2="460.50" stroke="#1c1c1c" stroke-width="1.25" /><polygon points="965.00,452.10 959.90,460.90 970.10,460.90" fill="#000"/><line x1="965.00" y1="561.70" x2="965.00" y2="576.20" stroke="#111" stroke-width="1.4" /><line x1="959.45" y1="561.70" x2="970.55" y2="561.70" stroke="#1c1c1c" stroke-width="1.25" /><line x1="959.45" y1="576.20" x2="970.55" y2="576.20" stroke="#1c1c1c" stroke-width="1.25" /><circle cx="964.10" cy="567.75" r="3.9" fill="#000"/></g>
<g><line x1="88.0" y1="6.0" x2="88.0" y2="722.65" stroke="#111" stroke-width="1.8"/><line x1="87.1" y1="6.9" x2="1013.25" y2="6.9" stroke="#111" stroke-width="1.8"/><line x1="1012.7" y1="6.0" x2="1012.7" y2="722.65" stroke="#111" stroke-width="1.3"/><line x1="87.1" y1="721.8" x2="1013.35" y2="721.8" stroke="#111" stroke-width="1.7"/><line x1="88.0" y1="364.3" x2="1012.6" y2="364.3" stroke="#111" stroke-width="1.7"/><line x1="531.8" y1="6.9" x2="531.8" y2="721.8" stroke="#111" stroke-width="1.8"/></g>
<g><text transform="translate(43.02,14.45) scale(1.06,1)" stroke="#000" stroke-width="0.3"><tspan font-size="21.3">1·0</tspan></text><text transform="translate(42.92,69.15) scale(1.06,1)" stroke="#000" stroke-width="0.3"><tspan font-size="21.3">0·8</tspan></text><text transform="translate(42.92,124.35) scale(1.06,1)" stroke="#000" stroke-width="0.3"><tspan font-size="21.3">0·6</tspan></text><text transform="translate(42.92,179.55) scale(1.06,1)" stroke="#000" stroke-width="0.3"><tspan font-size="21.3">0·4</tspan></text><text transform="translate(42.92,234.75) scale(1.06,1)" stroke="#000" stroke-width="0.3"><tspan font-size="21.3">0·2</tspan></text><text transform="translate(42.92,289.95) scale(1.06,1)" stroke="#000" stroke-width="0.3"><tspan font-size="21.3">0·0</tspan></text><text transform="translate(32.32,345.15) scale(1.06,1)" stroke="#000" stroke-width="0.3"><tspan font-size="21.3"><tspan dy="1.6">−</tspan><tspan dy="-1.6" dx="-1.6">0·2</tspan></tspan></text><text transform="translate(43.12,728.85) scale(1.06,1)" stroke="#000" stroke-width="0.3"><tspan font-size="21.3">0·0</tspan></text><text transform="translate(43.02,670.45) scale(1.06,1)" stroke="#000" stroke-width="0.3"><tspan font-size="21.3">0·5</tspan></text><text transform="translate(43.02,610.65) scale(1.06,1)" stroke="#000" stroke-width="0.3"><tspan font-size="21.3">1·0</tspan></text><text transform="translate(43.02,550.85) scale(1.06,1)" stroke="#000" stroke-width="0.3"><tspan font-size="21.3">1·5</tspan></text><text transform="translate(43.02,491.05) scale(1.06,1)" stroke="#000" stroke-width="0.3"><tspan font-size="21.3">2·0</tspan></text><text transform="translate(43.02,431.25) scale(1.06,1)" stroke="#000" stroke-width="0.3"><tspan font-size="21.3">2·5</tspan></text><text transform="translate(1025.54,336.10) scale(1.06,1)" stroke="#000" stroke-width="0.3"><tspan font-size="21.3">0·3</tspan></text><text transform="translate(1025.54,264.80) scale(1.06,1)" stroke="#000" stroke-width="0.3"><tspan font-size="21.3">0·4</tspan></text><text transform="translate(1025.54,193.50) scale(1.06,1)" stroke="#000" stroke-width="0.3"><tspan font-size="21.3">0·5</tspan></text><text transform="translate(1025.54,122.20) scale(1.06,1)" stroke="#000" stroke-width="0.3"><tspan font-size="21.3">0·6</tspan></text><text transform="translate(1024.94,44.20) scale(1.06,1)" stroke="#000" stroke-width="0.3"><tspan font-size="21.3">0·7</tspan></text><text transform="translate(1025.54,676.12) scale(1.06,1)" stroke="#000" stroke-width="0.3"><tspan font-size="21.3">2·5</tspan></text><text transform="translate(1025.54,586.97) scale(1.06,1)" stroke="#000" stroke-width="0.3"><tspan font-size="21.3">3·0</tspan></text><text transform="translate(1025.54,497.82) scale(1.06,1)" stroke="#000" stroke-width="0.3"><tspan font-size="21.3">3·5</tspan></text><text transform="translate(1026.60,408.67) scale(1.06,1)" stroke="#000" stroke-width="0.3"><tspan font-size="21.3">4·0</tspan></text><text transform="translate(110.78,754.90) scale(1.0600,1)" stroke="#000" stroke-width="0.3">10</text><text transform="translate(482.03,754.90) scale(1.0839,1)" stroke="#000" stroke-width="0.3">100</text><text transform="translate(554.49,754.90) scale(1.0550,1)" stroke="#000" stroke-width="0.3">10</text><text transform="translate(925.65,754.90) scale(1.0774,1)" stroke="#000" stroke-width="0.3">100</text><text transform="translate(329.70,789.50) scale(1.0702,1)" stroke="#000" stroke-width="0.3">Distance from the road (m, note log scale)</text><text transform="translate(19.00,269.50) rotate(-90) scale(1.0313,1)" stroke="#000" stroke-width="0.3">RGR, mg g<tspan font-size="12" dy="-10">−1</tspan><tspan dy="10"> day</tspan><tspan font-size="12" dy="-10">−1</tspan></text><text transform="translate(19.50,658.65) rotate(-90) scale(1.0507,1)" stroke="#000" stroke-width="0.3">Chlorophyll <tspan font-style="italic">a</tspan>+<tspan font-style="italic">b</tspan>, mg g<tspan font-size="12" dy="-10">−1</tspan></text><text transform="translate(1086.80,212.40) rotate(-90) scale(1.0340,1)" stroke="#000" stroke-width="0.3"><tspan font-style="italic">F</tspan><tspan font-size="13" dy="4" dx="-1.5">v</tspan><tspan dy="-4" dx="3.5">/</tspan><tspan font-style="italic" dx="2.5">F</tspan><tspan font-size="13" dy="4" dx="-1.5">m</tspan></text><text transform="translate(1088.00,644.06) rotate(-90) scale(1.0584,1)" stroke="#000" stroke-width="0.3">Chlorophyll <tspan font-style="italic">a</tspan>/<tspan font-style="italic">b</tspan>-ratio</text></g>
</svg>
</body></html>
